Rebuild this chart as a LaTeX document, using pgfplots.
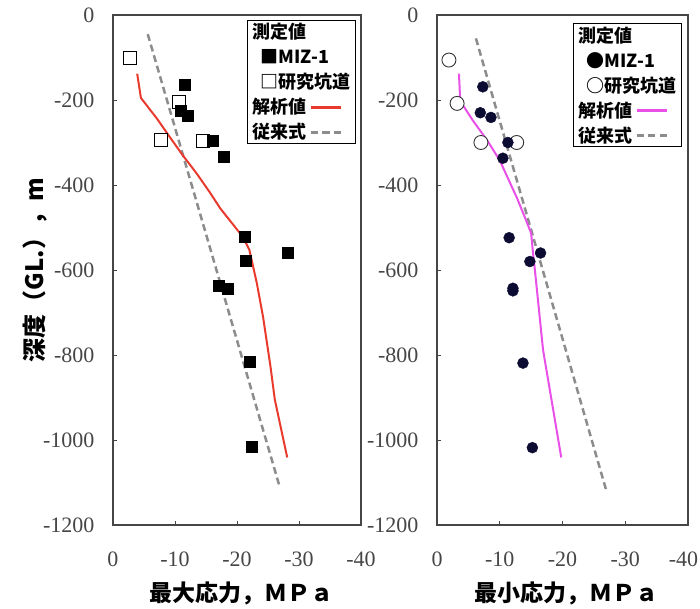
\documentclass[border=0pt]{standalone}
\usepackage{fontspec}
\usepackage{pgfplots}
\pgfplotsset{compat=1.18}
\setmainfont{Liberation Serif}
\newfontfamily\cjk{Noto Sans CJK JP}
\newfontfamily\tickfont{Liberation Serif}
\definecolor{axgray}{RGB}{70,70,70}
\definecolor{redline}{RGB}{232,58,45}
\definecolor{magline}{RGB}{232,80,232}
\definecolor{dashgray}{RGB}{140,140,140}
\definecolor{navy}{RGB}{12,12,50}

\newcommand{\legfont}{\cjk\bfseries\fontsize{18}{25}\selectfont}
\newcommand{\labfont}{\cjk\bfseries\fontsize{23}{26}\selectfont}
\newcommand{\ylabfont}{\cjk\bfseries\fontsize{24}{26}\selectfont}
\newcommand{\tkfont}{\tickfont\fontsize{22}{22}\selectfont}
\newcommand{\redseg}{\textcolor{redline}{\rule[0.3em]{1.7em}{2.2pt}}}
\newcommand{\magseg}{\textcolor{magline}{\rule[0.3em]{1.7em}{2.2pt}}}
\newcommand{\dashseg}{\textcolor{dashgray}{\rule[0.3em]{0.4em}{2.2pt}\hspace{0.25em}\rule[0.3em]{0.4em}{2.2pt}\hspace{0.25em}\rule[0.3em]{0.4em}{2.2pt}}}

\pgfplotsset{
  mystyle/.style={
    scale only axis, height=510pt,
    xmin=-40, xmax=0, ymin=-1200, ymax=0, x dir=reverse,
    xtick={-40,-30,-20,-10,0},
    ytick={-1200,-1000,-800,-600,-400,-200,0},
    yticklabels={-1200,-1000,-800,-600,-400,-200,0},
    tick align=inside, xtick pos=bottom, ytick pos=left,
    major tick length=4pt,
    axis line style={axgray, line width=1.1pt},
    every tick/.style={axgray, line width=0.8pt},
    /pgf/number format/assume math mode=true,
    every tick label/.append style={font=\tkfont, text=axgray},
    every x tick label/.append style={font=\tkfont, yshift=-23pt},
    every y tick label/.append style={font=\tkfont, xshift=-15pt},
    clip=false,
  },
  fsq/.style={only marks, mark=square*, mark size=5.5pt, mark options={fill=black, draw=black}},
  osq/.style={only marks, mark=square*, mark size=6.5pt, mark options={fill=white, draw=black, line width=0.8pt}},
  fci/.style={only marks, mark=*, mark size=5.5pt, mark options={fill=navy, draw=navy}},
  oci/.style={only marks, mark=*, mark size=7pt, mark options={fill=white, draw=black!80, line width=0.9pt}},
}

\begin{document}
\begin{tikzpicture}
\path[use as bounding box] (0,0) rectangle (700pt,-609pt);

% ---------- left: maximum stress ----------
\begin{axis}[mystyle, width=248pt, at={(113pt,-525pt)}, anchor=south west,
  xticklabels={-40,-30,-20,-10,0},
  ylabel={\ylabfont 深度（GL.），m},
  ylabel style={at={(axis description cs:-0.315,0.50)}, anchor=center},
  xlabel={\labfont 最大応力，ＭＰａ},
  xlabel style={at={(axis description cs:0.52,-0.135)}, anchor=center},
]
\addplot[dashgray, line width=2.5pt, dash pattern=on 7pt off 4pt] coordinates {(-5.6,-45) (-26.9,-1111)};
\addplot[redline, line width=2pt] coordinates {
(-3.9,-138) (-4.5,-195) (-7.1,-244) (-9.2,-288) (-11.3,-331) (-13.5,-373)
(-15.6,-417) (-17.3,-455) (-19.2,-490) (-21.0,-523) (-22.0,-553)
(-23.2,-631) (-24.2,-710) (-25.4,-827) (-26.1,-905) (-28.1,-1041)};
\addplot[osq] coordinates {(-2.7,-101) (-10.6,-204) (-7.7,-294) (-14.5,-296)};
\addplot[fsq] coordinates {
(-11.6,-165) (-10.9,-226) (-12.0,-237) (-16.1,-296) (-17.8,-333)
(-21.3,-521) (-21.4,-577) (-28.1,-559) (-17.1,-638) (-18.5,-644)
(-22.1,-816) (-22.4,-1015)};
\node[draw=black, line width=0.9pt, fill=white, anchor=north east, inner xsep=5pt, inner ysep=3pt,
  align=left, font=\legfont] at (axis description cs:0.98,0.99)
  {測定値\\\hspace{0.45em}■MIZ-1\\\hspace{0.45em}□研究坑道\\解析値 \redseg\\従来式 \dashseg};
\end{axis}

% ---------- right: minimum stress ----------
\begin{axis}[mystyle, width=251pt, at={(437pt,-525pt)}, anchor=south west,
  xticklabels={{\hspace*{-9pt}-40},-30,-20,-10,0},
  xlabel={\labfont 最小応力，ＭＰａ},
  xlabel style={at={(axis description cs:0.514,-0.135)}, anchor=center},
]
\addplot[dashgray, line width=2.5pt, dash pattern=on 7pt off 4pt] coordinates {(-6.2,-55) (-27.0,-1120)};
\addplot[magline, line width=2pt] coordinates {
(-3.5,-138) (-3.7,-202) (-5.7,-248) (-8.0,-295) (-10.0,-342) (-11.3,-384)
(-12.7,-429) (-14.0,-476) (-15.0,-513) (-15.3,-560) (-15.6,-600)
(-16.9,-788) (-19.8,-1041)};
\addplot[oci] coordinates {(-1.9,-106) (-3.2,-208) (-7.0,-300) (-12.7,-300)};
\addplot[fci] coordinates {
(-7.3,-169) (-6.9,-230) (-8.6,-241) (-11.3,-300) (-10.5,-337)
(-11.5,-524) (-16.5,-560) (-14.8,-580) (-12.1,-643) (-12.1,-649)
(-13.7,-819) (-15.2,-1018)};
\node[draw=black, line width=0.9pt, fill=white, anchor=north east, inner xsep=5pt, inner ysep=3pt,
  align=left, font=\legfont] at (axis description cs:0.976,0.984)
  {測定値\\\hspace{0.45em}●MIZ-1\\\hspace{0.45em}○研究坑道\\解析値 \magseg\\従来式 \dashseg};
\end{axis}
\end{tikzpicture}
\end{document}
